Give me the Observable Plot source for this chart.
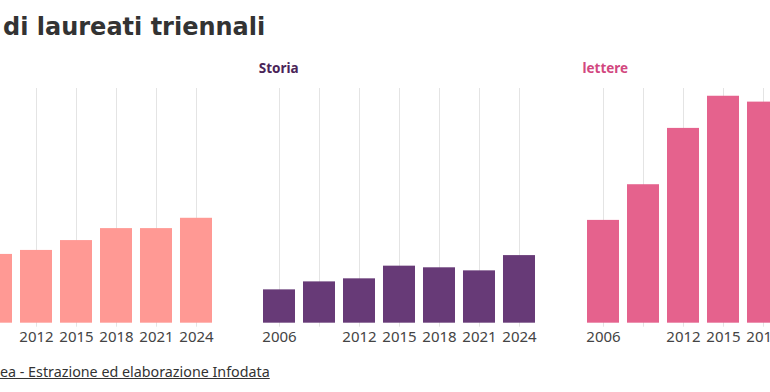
<!DOCTYPE html>
<html>
<head>
<meta charset="utf-8">
<script src="https://cdn.jsdelivr.net/npm/d3@7"></script>
<script src="https://cdn.jsdelivr.net/npm/@observablehq/plot@0.6"></script>
<style>
  html, body { margin: 0; padding: 0; background: #fff; }
  #wrap { position: relative; width: 770px; height: 392px; overflow: hidden; font-family: "Noto Sans", sans-serif; }
  #title { position: absolute; left: 3px; top: 13px; font-family: "DejaVu Sans", sans-serif; font-size: 24px; font-weight: 700; color: #333; white-space: nowrap; }
  .ptitle { position: absolute; top: 59px; font-size: 13.5px; font-weight: 700; white-space: nowrap; }
  .panel { position: absolute; top: 88px; width: 283px; }
  .panel svg { max-width: none !important; }
  #foot { position: absolute; left: 0px; top: 362px; font-size: 14.3px; color: #333; text-decoration: underline; white-space: nowrap; }
</style>
</head>
<body>
<div id="wrap">
  <div id="title">di laureati triennali</div>
  <div id="foot">ea - Estrazione ed elaborazione Infodata</div>
</div>
<script>
// Data (number of graduates)
const years = ["2006", "2009", "2012", "2015", "2018", "2021", "2024"];
const tickYears = ["2006", "2012", "2015", "2018", "2021", "2024"];
const panelNames = ["", "Storia", "lettere"];
const panelColors = ["#ff9994", "#673a77", "#e5628d"];
const titleColors = ["#333333", "#4a2458", "#d2487f"];
const valuesFirst = [null, 2930, 3100, 3520, 4030, 4030, 4470];
const valuesStoria = [1420, 1760, 1890, 2430, 2360, 2230, 2880];
const valuesLettere = [4380, 5900, 8300, 9670, 9420, null, null];
const panelLefts = [-65.4, 258.3, 582];

const seriesList = [valuesFirst, valuesStoria, valuesLettere];
const wrap = document.getElementById("wrap");

seriesList.forEach((vals, i) => {
  const data = years.map((y, j) => ({year: y, value: vals[j]})).filter(d => d.value != null);
  const chart = Plot.plot({
    width: 282.1,
    height: 264.7,
    marginLeft: 0,
    marginRight: 0,
    marginTop: 0,
    marginBottom: 30,
    style: {fontFamily: "'Noto Sans', sans-serif", fontSize: "15px", color: "#444", background: "transparent", overflow: "visible"},
    x: {type: "band", domain: years, paddingInner: 0.2, paddingOuter: 0.1, axis: null, label: null},
    y: {domain: [0, 10000], axis: null},
    marks: [
      Plot.ruleX(years, {x: d => d, stroke: "#e4e4e4", strokeWidth: 1, insetBottom: -4}),
      Plot.barY(data, {x: "year", y: "value", fill: panelColors[i]}),
      Plot.axisX({ticks: tickYears, tickSize: 0, tickPadding: 8, fontSize: 15, fill: "#444", label: null})
    ]
  });
  chart.style.maxWidth = "none";
  const div = document.createElement("div");
  div.className = "panel";
  div.style.left = panelLefts[i] + "px";
  div.appendChild(chart);
  wrap.appendChild(div);
  if (panelNames[i]) {
    const t = document.createElement("div");
    t.className = "ptitle";
    t.style.left = (panelLefts[i] + 0.5) + "px";
    t.style.color = titleColors[i];
    t.textContent = panelNames[i];
    wrap.appendChild(t);
  }
});
</script>
</body>
</html>
